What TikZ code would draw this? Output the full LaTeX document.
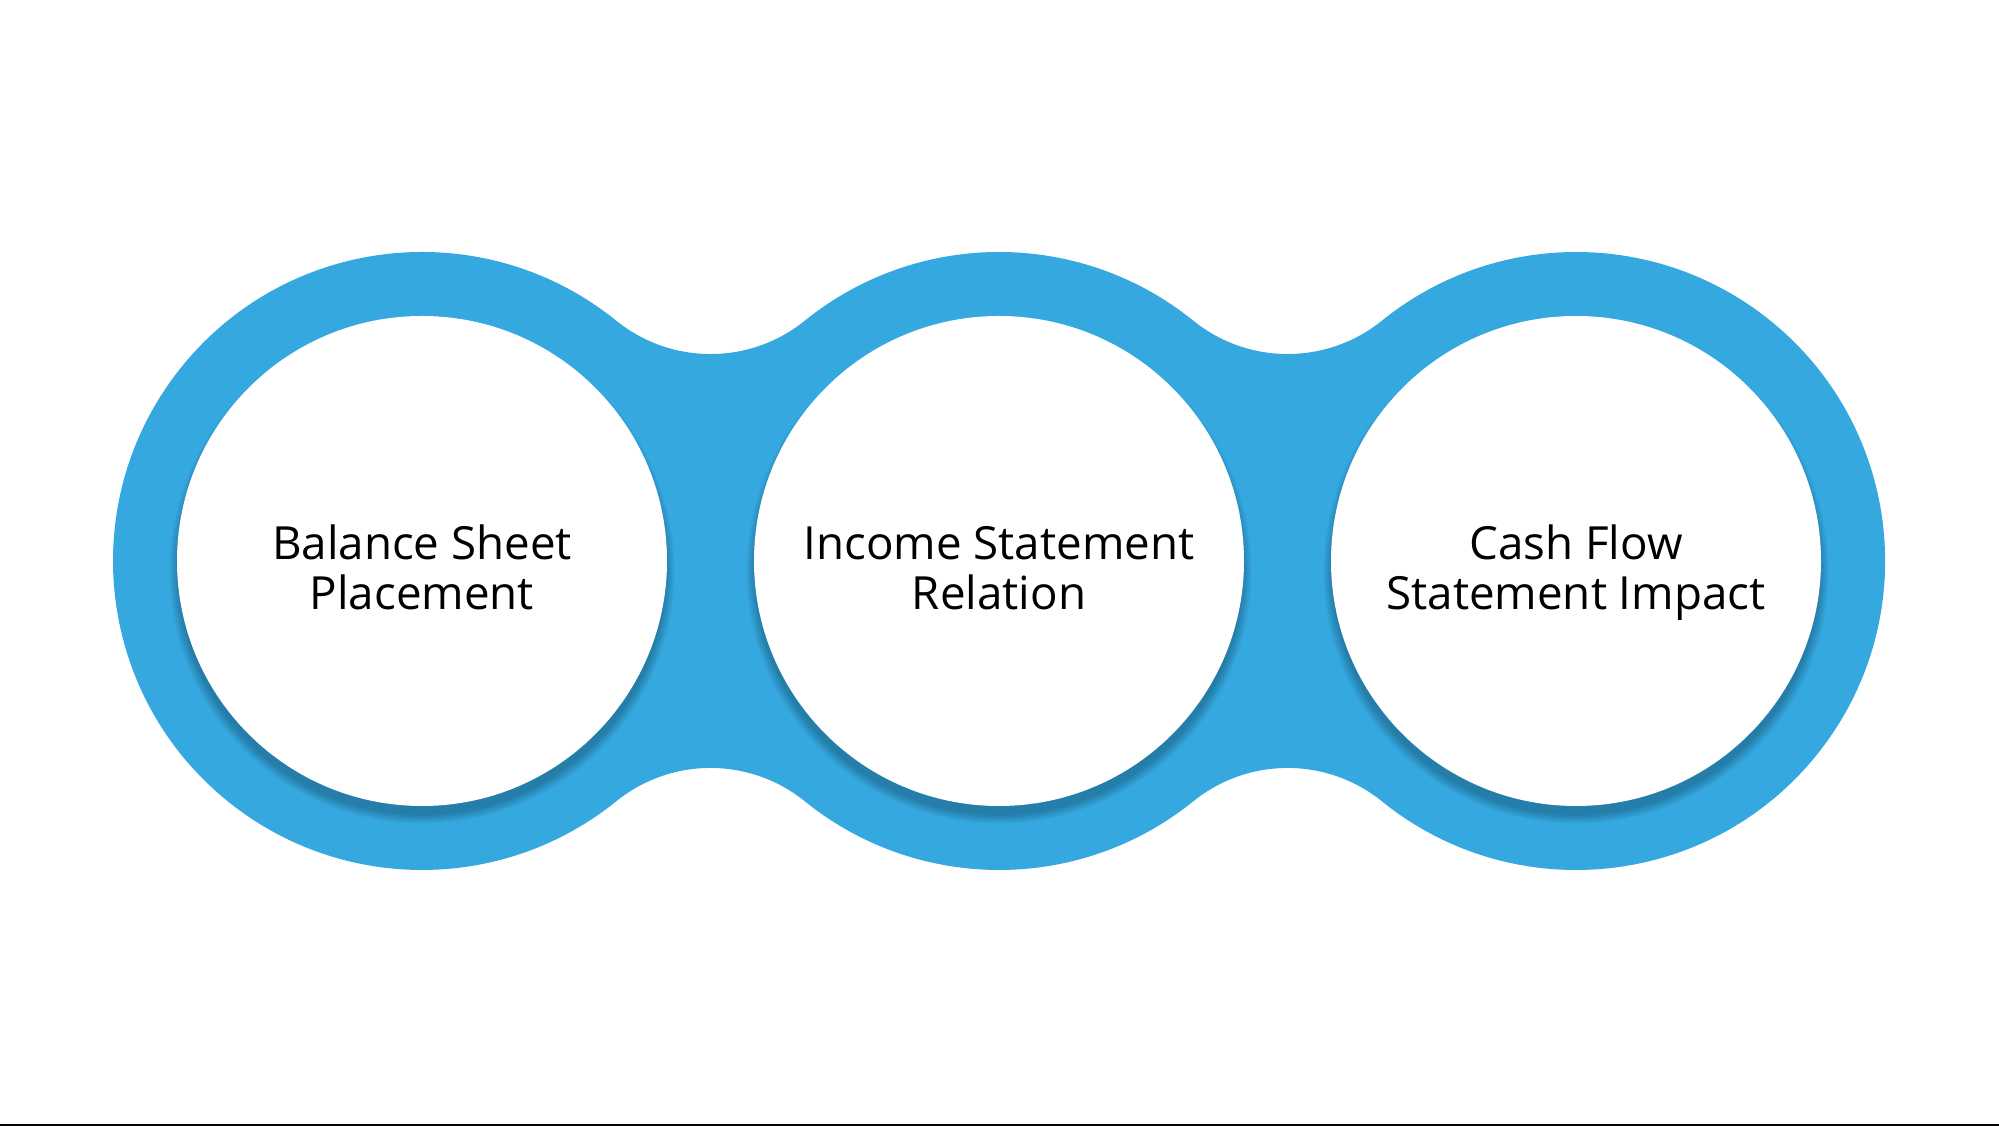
\documentclass[tikz,border=0pt]{standalone}
\usepackage{fontspec}
\setmainfont{Open Sans}
\definecolor{ringblue}{RGB}{53,168,224}
\newcommand\padtop{\rule{0pt}{0.62cm}}
\begin{document}
\begin{tikzpicture}
  [every node/.style={circle,fill=white,minimum size=4.9cm,inner sep=0pt,
     align=center,font=\fontsize{13}{14.3}\selectfont}]
  \useasboundingbox (0,0) rectangle (19.99,11.26);
  \fill[black] (0,0) rectangle (19.99,0.02);

  % blue band round the three circles
  \fill[ringblue] (4.22,5.65) ++(51.05:3.09)
    arc[start angle=51.05,end angle=308.95,radius=3.09]
    arc[start angle=128.95,end angle=51.05,radius=1.5]
    arc[start angle=231.05,end angle=308.95,radius=3.09]
    arc[start angle=128.95,end angle=51.05,radius=1.5]
    arc[start angle=231.05,end angle=488.95,radius=3.09]
    arc[start angle=308.95,end angle=231.05,radius=1.5]
    arc[start angle=51.05,end angle=128.95,radius=3.09]
    arc[start angle=308.95,end angle=231.05,radius=1.5]
    -- cycle;

  % soft shadows
  \foreach \x in {4.22,9.99,15.76}
    \foreach \k in {1,...,8}
      \fill[black,opacity=.03] (\x,5.55) circle (2.43+0.012*\k);

  \node (bs) at (4.22,5.65)  {\padtop Balance Sheet\\\strut Placement};
  \node (is) at (9.99,5.65)  {\padtop Income Statement\\\strut Relation};
  \node (cf) at (15.76,5.65) {\padtop Cash Flow\\\strut Statement Impact};

\end{tikzpicture}
\end{document}
